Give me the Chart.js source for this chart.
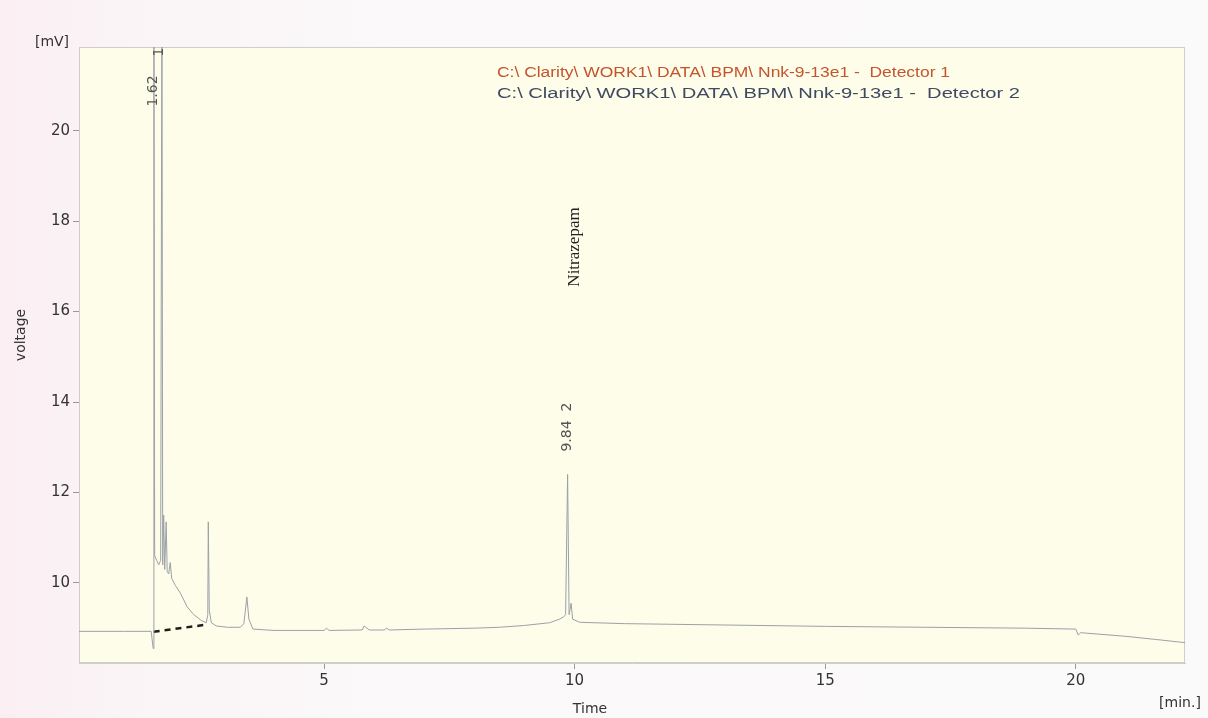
<!DOCTYPE html>
<html>
<head>
<meta charset="utf-8">
<script src="https://cdn.jsdelivr.net/npm/chart.js@4"></script>
<style>
  body { margin: 0; background: linear-gradient(to right, #fbeef2 0px, #faf4f6 110px, #fbf9fa 400px, #fbfafa 100%); }
  #wrap { width: 1208px; height: 718px; }
</style>
</head>
<body>
<div id="wrap"><canvas id="myChart" width="1208" height="718"></canvas></div>
<script>
// retention time [min.] and detector 2 signal [mV]
var times = [0.11, 1.0, 1.55, 1.59, 1.605, 1.62, 1.66, 1.70, 1.74, 1.765, 1.78, 1.80, 1.82, 1.85, 1.87, 1.90,
  1.93, 1.96, 2.03, 2.13, 2.27, 2.40, 2.55, 2.65, 2.68, 2.69, 2.71, 2.75, 2.85, 3.07, 3.33, 3.40,
  3.46, 3.50, 3.58, 4.0, 5.0, 5.05, 5.1, 5.76, 5.8, 5.9, 6.2, 6.25, 6.3, 7.0, 8.0, 8.5,
  9.0, 9.5, 9.7, 9.78, 9.82, 9.86, 9.89, 9.93, 9.96, 10.1, 11.0, 13.0, 15.0, 17.0, 19.0, 20.0,
  20.05, 20.1, 21.0, 21.6, 22.18];
var mv = [8.93, 8.93, 8.93, 8.55, 23, 10.6, 10.5, 10.4, 10.5, 23, 10.4, 11.5, 10.3, 11.35, 10.25, 10.2,
  10.45, 10.1, 9.95, 9.78, 9.47, 9.3, 9.17, 9.12, 9.3, 11.35, 9.4, 9.12, 9.05, 9.02, 9.02, 9.1,
  9.69, 9.2, 8.98, 8.95, 8.95, 9.0, 8.95, 8.96, 9.05, 8.96, 8.96, 9.0, 8.96, 8.98, 9.0, 9.02,
  9.06, 9.12, 9.2, 9.25, 9.3, 12.4, 9.3, 9.55, 9.2, 9.13, 9.1, 9.07, 9.04, 9.02, 9.0, 8.98,
  8.85, 8.9, 8.82, 8.75, 8.68];

// integration baseline under the first peak
var baseTimes = [1.60, 2.67];
var baseMv = [8.92, 9.08];

var xTicks = [5, 10, 15, 20];
var yTicks = [10, 12, 14, 16, 18, 20];

var legendRows = ['C:\\ Clarity\\ WORK1\\ DATA\\ BPM\\ Nnk-9-13e1 -  Detector 1',
                  'C:\\ Clarity\\ WORK1\\ DATA\\ BPM\\ Nnk-9-13e1 -  Detector 2'];

var peaks = [{ t: 1.62, label: '1.62', num: '1' }, { t: 9.84, label: '9.84', num: '2' }];

function pts(xs, ys) {
  return xs.map(function (x, i) { return { x: x, y: ys[i] }; });
}

function vtext(ctx, s, x, y) {
  ctx.save();
  ctx.translate(x, y);
  ctx.rotate(-Math.PI / 2);
  ctx.textAlign = 'center';
  ctx.textBaseline = 'middle';
  ctx.fillText(s, 0, 0);
  ctx.restore();
}

var plotBg = {
  id: 'plotBg',
  beforeDraw: function (chart) {
    var a = chart.chartArea, ctx = chart.ctx;
    ctx.save();
    ctx.fillStyle = '#fdfdea';
    ctx.fillRect(a.left, a.top, a.right - a.left, a.bottom - a.top);
    ctx.strokeStyle = '#cfcfca';
    ctx.lineWidth = 1;
    ctx.strokeRect(a.left + 0.5, a.top + 0.5, a.right - a.left - 1, a.bottom - a.top - 1);
    ctx.restore();
  }
};

var texts = {
  id: 'texts',
  afterDraw: function (chart) {
    var ctx = chart.ctx, xs = chart.scales.x;
    ctx.save();
    // legend
    var widths = [453, 523];
    var colors = ['#c4542c', '#3f4a62'];
    var rowsY = [73, 94];
    ctx.font = '14px "Liberation Sans", Arial, sans-serif';
    ctx.textBaseline = 'middle';
    ctx.textAlign = 'left';
    legendRows.forEach(function (s, i) {
      var w = ctx.measureText(s).width;
      ctx.save();
      ctx.translate(497, rowsY[i]);
      ctx.scale(widths[i] / w, 1);
      ctx.fillStyle = colors[i];
      ctx.fillText(s, 0, 0);
      ctx.restore();
    });
    // peak labels
    ctx.fillStyle = '#555';
    ctx.font = '14px "DejaVu Sans", Verdana, sans-serif';
    vtext(ctx, peaks[0].label, xs.getPixelForValue(peaks[0].t) - 1, 91);
    vtext(ctx, peaks[0].num, xs.getPixelForValue(peaks[0].t) + 5, 52);
    vtext(ctx, peaks[1].label, xs.getPixelForValue(peaks[1].t) + 1, 436);
    vtext(ctx, peaks[1].num, xs.getPixelForValue(peaks[1].t) + 1, 407);
    ctx.fillStyle = '#222';
    ctx.font = '17px "Liberation Serif", "Times New Roman", serif';
    vtext(ctx, 'Nitrazepam', 575, 247);
    // axis titles
    ctx.fillStyle = '#333';
    ctx.font = '14px "DejaVu Sans", Verdana, sans-serif';
    ctx.textAlign = 'center';
    ctx.fillText('[mV]', 52, 42);
    ctx.fillText('Time', 590, 709);
    ctx.fillText('[min.]', 1180, 703);
    vtext(ctx, 'voltage', 21, 335);
    ctx.restore();
  }
};

var ctx = document.getElementById('myChart');
var myChart = new Chart(ctx, {
  type: 'line',
  data: {
    datasets: [
      {
        data: pts(times, mv),
        label: 'Detector 2',
        borderColor: '#9ca1a8',
        borderWidth: 1,
        pointRadius: 0,
        tension: 0,
        fill: false
      },
      {
        data: pts(baseTimes, baseMv),
        label: 'baseline',
        borderColor: '#1e1e1e',
        borderWidth: 2.5,
        borderDash: [6, 5],
        pointRadius: 0,
        fill: false
      }
    ]
  },
  options: {
    responsive: false,
    animation: false,
    layout: { padding: { left: 0, right: 23, top: 47, bottom: 0 } },
    plugins: { legend: { display: false }, tooltip: { enabled: false } },
    scales: {
      x: {
        type: 'linear',
        min: 0.11,
        max: 22.18,
        afterBuildTicks: function (s) { s.ticks = xTicks.map(function (v) { return { value: v }; }); },
        afterFit: function (s) { s.height = 55; },
        grid: { drawOnChartArea: false, drawTicks: true, tickLength: 6, color: '#9a9a9a' },
        border: { display: true, color: '#cfcfca' },
        ticks: { autoSkip: false, maxRotation: 0, padding: 3, color: '#333',
                  font: { family: '"DejaVu Sans", Verdana, sans-serif', size: 15 } }
      },
      y: {
        min: 8.23,
        max: 21.85,
        afterBuildTicks: function (s) { s.ticks = yTicks.map(function (v) { return { value: v }; }); },
        afterFit: function (s) { s.width = 79; },
        grid: { drawOnChartArea: false, drawTicks: true, tickLength: 6, color: '#9a9a9a' },
        border: { display: true, color: '#cfcfca' },
        ticks: { autoSkip: false, padding: 3, color: '#333',
                  font: { family: '"DejaVu Sans", Verdana, sans-serif', size: 15 } }
      }
    }
  },
  plugins: [plotBg, texts]
});
</script>
</body>
</html>
